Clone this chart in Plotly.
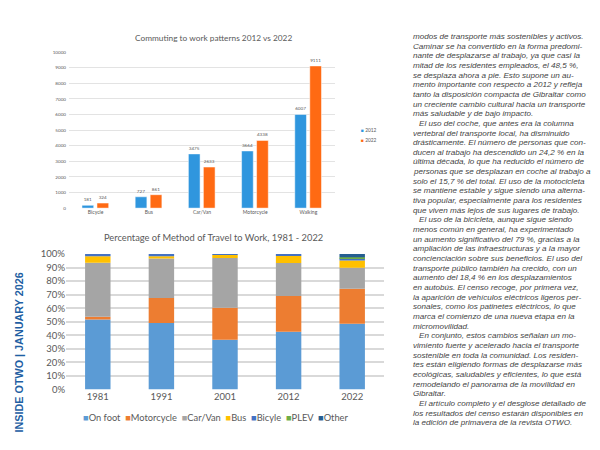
import plotly.graph_objects as go

W, H = 600, 450

# ---------------- data: top chart ----------------
modes_top = ["Bicycle", "Bus", "Car/Van", "Motorcycle", "Walking"]
commute_2012 = [181, 727, 3475, 3664, 6007]
commute_2022 = [324, 861, 2633, 4338, 9111]
top_series = ["2012", "2022"]
top_colors = ["#2F96DE", "#FF6A13"]

# ---------------- data: bottom chart ----------------
years = ["1981", "1991", "2001", "2012", "2022"]
on_foot = [51.6, 49.1, 36.7, 42.7, 48.5]
motorcycle = [2.2, 18.5, 23.7, 26.4, 25.8]
car_van = [39.7, 29.0, 36.7, 24.3, 15.6]
bus = [4.8, 1.7, 2.2, 5.1, 5.3]
bicyle = [1.7, 1.7, 0.7, 1.5, 1.7]
plev = [0.0, 0.0, 0.0, 0.0, 0.7]
other = [0.0, 0.0, 0.0, 0.0, 2.4]
share_names = ["On foot", "Motorcycle", "Car/Van", "Bus", "Bicyle", "PLEV", "Other"]
share_values = [on_foot, motorcycle, car_van, bus, bicyle, plev, other]
share_colors = ["#5B9BD5", "#ED7D31", "#A5A5A5", "#FFC000", "#4472C4", "#70AD47", "#255E91"]

# ---------------- text ----------------
side_label = "INSIDE OTWO | JANUARY 2026"
top_title = "Commuting to work patterns 2012 vs 2022"
bottom_title = "Percentage of Method of Travel to Work, 1981 - 2022"
article_lines = [
    "modos de transporte más sostenibles y activos.",
    "Caminar se ha convertido en la forma predomi-",
    "nante de desplazarse al trabajo, ya que casi la",
    "mitad de los residentes empleados, el 48,5 %,",
    "se desplaza ahora a pie. Esto supone un au-",
    "mento importante con respecto a 2012 y refleja",
    "tanto la disposición compacta de Gibraltar como",
    "un creciente cambio cultural hacia un transporte",
    "más saludable y de bajo impacto.",
    "\tEl uso del coche, que antes era la columna",
    "vertebral del transporte local, ha disminuido",
    "drásticamente. El número de personas que con-",
    "ducen al trabajo ha descendido un 24,2 % en la",
    "última década, lo que ha reducido el número de",
    "personas que se desplazan en coche al trabajo a",
    "solo el 15,7 % del total. El uso de la motocicleta",
    "se mantiene estable y sigue siendo una alterna-",
    "tiva popular, especialmente para los residentes",
    "que viven más lejos de sus lugares de trabajo.",
    "\tEl uso de la bicicleta, aunque sigue siendo",
    "menos común en general, ha experimentado",
    "un aumento significativo del 79 %, gracias a la",
    "ampliación de las infraestructuras y a la mayor",
    "concienciación sobre sus beneficios. El uso del",
    "transporte público también ha crecido, con un",
    "aumento del 18,4 % en los desplazamientos",
    "en autobús. El censo recoge, por primera vez,",
    "la aparición de vehículos eléctricos ligeros per-",
    "sonales, como los patinetes eléctricos, lo que",
    "marca el comienzo de una nueva etapa en la",
    "micromovilidad.",
    "\tEn conjunto, estos cambios señalan un mo-",
    "vimiento fuerte y acelerado hacia el transporte",
    "sostenible en toda la comunidad. Los residen-",
    "tes están eligiendo formas de desplazarse más",
    "ecológicas, saludables y eficientes, lo que está",
    "remodelando el panorama de la movilidad en",
    "Gibraltar.",
    "\tEl artículo completo y el desglose detallado de",
    "los resultados del censo estarán disponibles en",
    "la edición de primavera de la revista OTWO.",
]


def px(x):
    return x / W


def py(y):
    return 1 - y / H


GRAY = "#595959"
FONT = "Lato"

fig = go.Figure()

# top grouped bars (explicit offsets so the two charts can use different layouts)
top_offsets = [-0.256, 0.026]
for name, vals, col, off in zip(top_series, [commute_2012, commute_2022], top_colors, top_offsets):
    fig.add_trace(go.Bar(
        x=modes_top, y=vals, name=name, xaxis="x", yaxis="y",
        marker=dict(color=col, line=dict(color="white", width=0.5)),
        width=0.22, offset=off,
        text=[str(v) for v in vals], textposition="outside", cliponaxis=False,
        textfont=dict(family=FONT, size=4.6, color=GRAY),
        showlegend=False,
    ))

# bottom stacked bars (base computed from the values)
bases = [0.0] * len(years)
for name, vals, col in zip(share_names, share_values, share_colors):
    fig.add_trace(go.Bar(
        x=years, y=vals, base=list(bases), name=name, xaxis="x2", yaxis="y2",
        marker=dict(color=col, line=dict(width=0)),
        width=0.4, offset=-0.2, showlegend=False,
    ))
    bases = [b + v for b, v in zip(bases, vals)]

annotations = []

# titles
annotations.append(dict(text=top_title, x=px(205.5), y=py(25), xref="paper", yref="paper",
                        showarrow=False, xanchor="center", yanchor="middle",
                        font=dict(family=FONT, size=8.3, color=GRAY)))
annotations.append(dict(text=bottom_title, x=px(205.5), y=py(229.5), xref="paper", yref="paper",
                        showarrow=False, xanchor="center", yanchor="middle",
                        font=dict(family=FONT, size=9.3, color=GRAY)))

# top legend (vertical, small)
for i, (name, col) in enumerate(zip(top_series, top_colors)):
    annotations.append(dict(
        text=f'<span style="color:{col}">■</span> {name}',
        x=px(351), y=py(119 + i * 10), xref="paper", yref="paper",
        showarrow=False, xanchor="left", yanchor="middle",
        font=dict(family=FONT, size=4.8, color=GRAY)))

# bottom legend (horizontal)
parts = [f'<span style="color:{c}">■</span>{n}' for n, c in zip(share_names, share_colors)]
annotations.append(dict(
    text="\u00a0\u00a0".join(parts),
    x=px(207.5), y=py(414), xref="paper", yref="paper",
    showarrow=False, xanchor="center", yanchor="middle",
    font=dict(family=FONT, size=9.3, color=GRAY)))

# vertical side label
annotations.append(dict(
    text=f"<b>{side_label}</b>", x=px(11), y=py(347), xref="paper", yref="paper",
    showarrow=False, xanchor="center", yanchor="middle", textangle=-90,
    font=dict(family="Liberation Sans", size=10.8, color="#1F5FA3")))

# article text column
for i, line in enumerate(article_lines):
    indent = line.startswith("\t")
    txt = line.lstrip("\t")
    annotations.append(dict(
        text=f"<i>{txt}</i>", x=px(409 if indent else 403), y=py(23 + i * 9.9),
        xref="paper", yref="paper", showarrow=False, xanchor="left", yanchor="middle",
        font=dict(family="Liberation Sans", size=8.1, color="#444444")))

fig.update_layout(
    width=W, height=H, margin=dict(l=0, r=0, t=0, b=0),
    paper_bgcolor="white", plot_bgcolor="white",
    barmode="overlay", showlegend=False,
    annotations=annotations,
    xaxis=dict(domain=[px(61), px(327)], anchor="y", showgrid=False, showline=False,
               ticks="", ticklabelstandoff=0, tickfont=dict(family=FONT, size=5, color=GRAY)),
    yaxis=dict(domain=[py(199), py(39)], anchor="x", range=[0, 10000], dtick=1000,
               tickformat="d", ticklabelstandoff=2,
               showgrid=True, gridcolor="#E3E3E3", gridwidth=0.8, zeroline=False,
               showline=False, ticks="", tickfont=dict(family=FONT, size=4.6, color=GRAY)),
    xaxis2=dict(domain=[px(58), px(376)], anchor="y2", showgrid=False, showline=False,
                ticks="", tickfont=dict(family=FONT, size=9.5, color=GRAY)),
    yaxis2=dict(domain=[py(385), py(246)], anchor="x2", range=[0, 100], dtick=10,
                ticksuffix="%", showgrid=True, gridcolor="#D9D9D9", gridwidth=1.5,
                zeroline=False, showline=False, ticks="",
                tickfont=dict(family=FONT, size=9.5, color=GRAY)),
)

fig.write_html("out.html")
